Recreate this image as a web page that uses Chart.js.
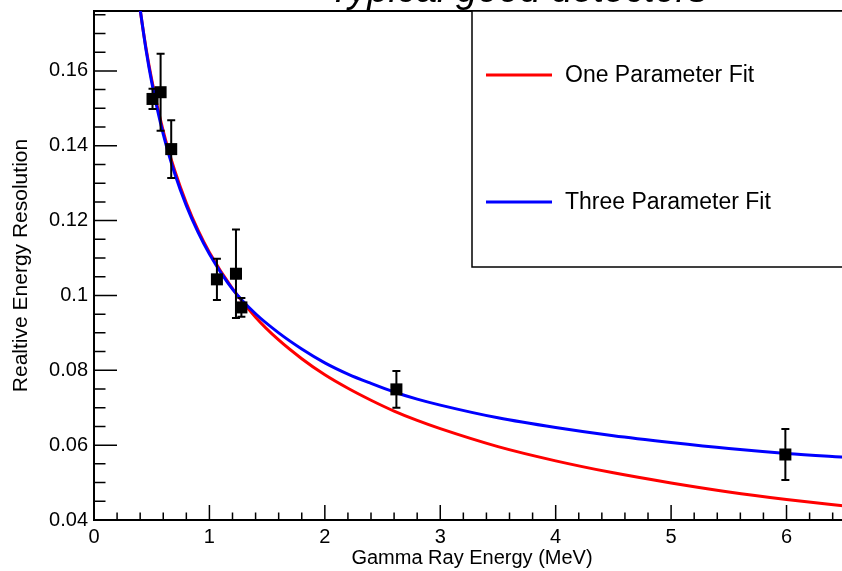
<!DOCTYPE html>
<html>
<head>
<meta charset="utf-8">
<script src="https://cdn.jsdelivr.net/npm/chart.js@4.4.0/dist/chart.umd.min.js"></script>
<style>
  html, body { margin: 0; padding: 0; background: #fff; overflow: hidden; }
  #wrap { width: 870px; height: 571px; }
</style>
</head>
<body>
<div id="wrap"><canvas id="resChart" width="870" height="571"></canvas></div>
<script>
// measured peaks: energy (MeV), relative resolution, error
const energy = [0.507, 0.577, 0.669, 1.065, 1.23, 1.277, 2.62, 5.99];
const resolution = [0.1525, 0.1543, 0.1391, 0.1043, 0.1058, 0.0968, 0.0749, 0.0575];
const resError = [0.0027, 0.0103, 0.0077, 0.0055, 0.0118, 0.0025, 0.0049, 0.0068];

// fit curves sampled along the energy axis
const fitEnergy = [0.38, 0.40, 0.45, 0.5, 0.6, 0.7, 0.8, 0.9, 1.0, 1.2, 1.4, 1.6, 1.8, 2.0, 2.2, 2.4, 2.6, 2.8, 3.0, 3.5, 4.0, 4.5, 5.0, 5.5, 6.0, 6.55];
const onePar = [0.1809, 0.1763, 0.1662, 0.1577, 0.1439, 0.1333, 0.1247, 0.1175, 0.1115, 0.1018, 0.0942, 0.0881, 0.0831, 0.0788, 0.0752, 0.0720, 0.0691, 0.0666, 0.0644, 0.0596, 0.0558, 0.0526, 0.0499, 0.0475, 0.0455, 0.0436];
const threePar = [0.1812, 0.1765, 0.1658, 0.1570, 0.1431, 0.1325, 0.1240, 0.1170, 0.1111, 0.1017, 0.0951, 0.0900, 0.0857, 0.0820, 0.0790, 0.0765, 0.0742, 0.0723, 0.0707, 0.0673, 0.0647, 0.0625, 0.0607, 0.0591, 0.0578, 0.0567];

const fitLabels = ['One Parameter Fit', 'Three Parameter Fit'];
const xTicks = [0, 1, 2, 3, 4, 5, 6];
const yTicks = [0.04, 0.06, 0.08, 0.1, 0.12, 0.14, 0.16];

const FONT = '"Liberation Sans", Arial, Helvetica, sans-serif';
const toXY = (xs, ys) => xs.map((x, i) => ({ x: x, y: ys[i] }));

// ROOT style inward ticks, major + minor, plus the top/right frame
const frameTicks = {
  id: 'frameTicks',
  beforeDatasetsDraw(chart) {
    const { ctx, chartArea: a, scales: { x, y } } = chart;
    ctx.save();
    ctx.strokeStyle = '#000';
    ctx.lineWidth = 1.5;
    ctx.beginPath();
    for (let i = 0; i * 0.2 <= x.max + 1e-9; i++) {
      const px = x.getPixelForValue(i * 0.2);
      const len = i % 5 === 0 ? 15 : 7.5;
      ctx.moveTo(px, a.bottom);
      ctx.lineTo(px, a.bottom - len);
    }
    for (let i = 0; y.min + i * 0.005 <= y.max + 1e-9; i++) {
      const py = y.getPixelForValue(y.min + i * 0.005);
      const len = i % 4 === 0 ? 23 : 11.5;
      ctx.moveTo(a.left, py);
      ctx.lineTo(a.left + len, py);
    }
    ctx.stroke();
    ctx.lineWidth = 2;
    ctx.beginPath();
    ctx.moveTo(a.left, a.top);
    ctx.lineTo(a.right, a.top);
    ctx.lineTo(a.right, a.bottom);
    ctx.stroke();
    ctx.restore();
  }
};

// vertical error bars with small caps
const errorBars = {
  id: 'errorBars',
  afterDatasetsDraw(chart) {
    const { ctx, chartArea: a, scales: { x, y } } = chart;
    ctx.save();
    ctx.beginPath();
    ctx.rect(a.left, a.top, a.right - a.left, a.bottom - a.top);
    ctx.clip();
    ctx.strokeStyle = '#000';
    ctx.lineWidth = 2;
    energy.forEach((e, i) => {
      const px = x.getPixelForValue(e);
      const top = y.getPixelForValue(resolution[i] + resError[i]);
      const bot = y.getPixelForValue(resolution[i] - resError[i]);
      ctx.beginPath();
      ctx.moveTo(px, top); ctx.lineTo(px, bot);
      ctx.moveTo(px - 4, top); ctx.lineTo(px + 4, top);
      ctx.moveTo(px - 4, bot); ctx.lineTo(px + 4, bot);
      ctx.stroke();
    });
    ctx.restore();
  }
};

// boxed legend in the upper right, plus the title running off the top
const boxLegend = {
  id: 'boxLegend',
  afterDraw(chart) {
    const { ctx, chartArea: a } = chart;
    ctx.save();
    ctx.font = 'italic 38px ' + FONT;
    ctx.fillStyle = '#000';
    ctx.textBaseline = 'alphabetic';
    ctx.fillText('Typical good detectors', 328, 2);

    const bx = 472, by = a.top, bw = chart.width - bx + 10, bh = 267 - a.top;
    ctx.fillStyle = '#fff';
    ctx.fillRect(bx, by, bw, bh);
    ctx.strokeStyle = '#000';
    ctx.lineWidth = 1.5;
    ctx.strokeRect(bx, by, bw, bh);

    const rows = [75, 202];
    ctx.font = '23px ' + FONT;
    ctx.textBaseline = 'middle';
    chart.data.datasets.slice(1).forEach((ds, i) => {
      ctx.strokeStyle = ds.borderColor;
      ctx.lineWidth = 3;
      ctx.beginPath();
      ctx.moveTo(486, rows[i]);
      ctx.lineTo(552, rows[i]);
      ctx.stroke();
      ctx.fillStyle = '#000';
      ctx.fillText(ds.label, 565, rows[i] + 1);
    });
    ctx.restore();
  }
};

new Chart(document.getElementById('resChart').getContext('2d'), {
  type: 'scatter',
  data: {
    datasets: [
      {
        label: 'Data',
        data: toXY(energy, resolution),
        pointStyle: 'rect',
        pointRadius: 8.5,
        pointBackgroundColor: '#000',
        pointBorderWidth: 0,
        order: 0
      },
      {
        label: fitLabels[0],
        data: toXY(fitEnergy, onePar),
        showLine: true,
        borderColor: '#ff0000',
        borderWidth: 3,
        pointRadius: 0,
        cubicInterpolationMode: 'monotone',
        order: 2
      },
      {
        label: fitLabels[1],
        data: toXY(fitEnergy, threePar),
        showLine: true,
        borderColor: '#0000ff',
        borderWidth: 3,
        pointRadius: 0,
        cubicInterpolationMode: 'monotone',
        order: 1
      }
    ]
  },
  options: {
    responsive: false,
    animation: false,
    layout: { padding: { top: 11, right: 20, left: 0, bottom: 0 } },
    plugins: {
      legend: { display: false },
      tooltip: { enabled: false }
    },
    scales: {
      x: {
        type: 'linear',
        min: 0,
        max: 6.55,
        afterFit: s => { s.height = 51; s.paddingLeft = 0; s.paddingRight = 0; },
        afterBuildTicks: s => { s.ticks = xTicks.map(v => ({ value: v })); },
        grid: { drawOnChartArea: false, drawTicks: false },
        border: { display: true, color: '#000', width: 2 },
        ticks: {
          padding: 5,
          color: '#000',
          font: { family: FONT, size: 20 },
          maxRotation: 0
        },
        title: {
          display: true,
          text: 'Gamma Ray Energy (MeV)',
          color: '#000',
          font: { family: FONT, size: 20 },
          padding: { top: 0, bottom: 1 }
        }
      },
      y: {
        type: 'linear',
        min: 0.04,
        max: 0.176,
        afterFit: s => { s.width = 94; s.paddingTop = 0; s.paddingBottom = 0; },
        afterBuildTicks: s => { s.ticks = yTicks.map(v => ({ value: v })); },
        grid: { drawOnChartArea: false, drawTicks: false },
        border: { display: true, color: '#000', width: 2 },
        ticks: {
          padding: 6,
          color: '#000',
          font: { family: FONT, size: 20 },
          callback: v => String(+v.toFixed(3))
        },
        title: {
          display: true,
          text: 'Realtive Energy Resolution',
          color: '#000',
          font: { family: FONT, size: 21 },
          padding: { top: 9, bottom: 0 }
        }
      }
    }
  },
  plugins: [frameTicks, errorBars, boxLegend]
});
</script>
</body>
</html>
